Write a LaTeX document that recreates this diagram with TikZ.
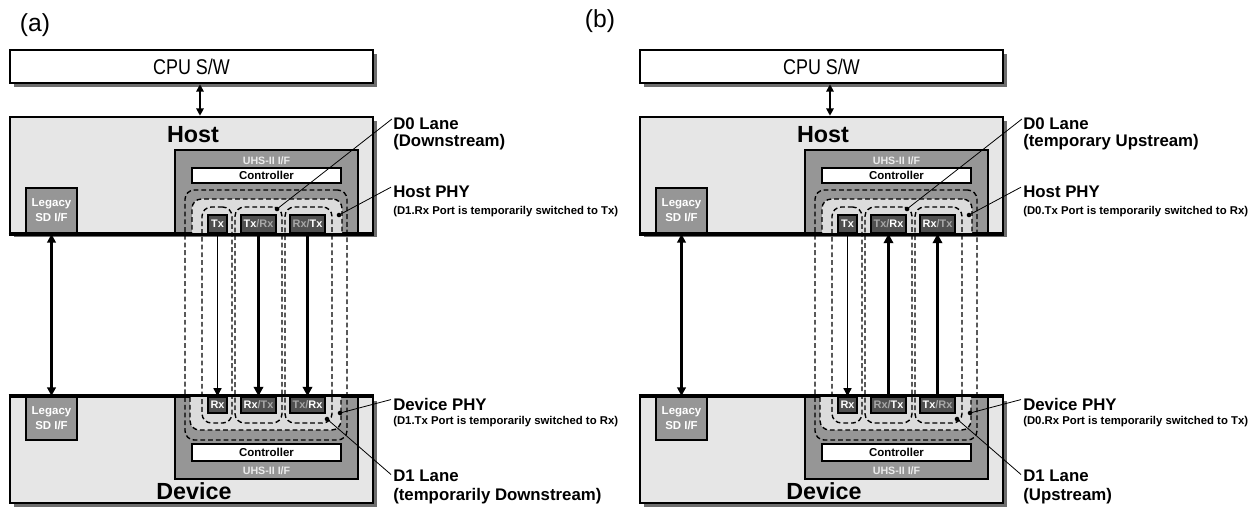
\documentclass[tikz,border=0pt]{standalone}
\usepackage{fontspec}
\setmainfont{Liberation Sans}
\newfontfamily\narrowfont[FakeStretch=0.84]{Liberation Sans}
\usetikzlibrary{arrows.meta,fit,shadows}
\definecolor{bggray}{HTML}{E6E6E6}
\definecolor{uhsgray}{HTML}{969696}
\definecolor{phygray}{HTML}{DCDCDC}
\definecolor{portgray}{HTML}{505050}
\definecolor{faintc}{HTML}{A8A8A8}
\definecolor{shgray}{HTML}{6E6E6E}
\newcommand\faint[1]{\textcolor{faintc}{#1}}
\tikzset{
  bigbox/.style={draw=black, line width=1.9pt, fill=bggray, inner sep=0pt,
    general shadow={fill=shgray, shadow xshift=3.2pt, shadow yshift=-3.2pt}},
  cpubox/.style={bigbox, fill=white},
  cputext/.style={inner sep=0pt, font=\narrowfont\fontsize{16}{18}\selectfont},
  uhsbox/.style={draw=black, line width=1.6pt, fill=uhsgray, inner sep=0pt},
  ctrlbox/.style={draw=black, line width=1.1pt, fill=white, inner sep=0pt},
  ctrltext/.style={inner sep=0pt, font=\bfseries\fontsize{8.6}{9}\selectfont},
  legbox/.style={draw=black, line width=1.6pt, fill=uhsgray, inner sep=0pt},
  legtext/.style={text=white, align=center, inner sep=0pt,
    font=\bfseries\fontsize{8.6}{10.8}\selectfont},
  uhstext/.style={text=white!92!black, inner sep=0pt, font=\bfseries\fontsize{8}{9}\selectfont},
  bigtitle/.style={inner sep=0pt, font=\bfseries\fontsize{17.5}{19}\selectfont},
  portbox/.style={draw=black, line width=1.2pt, fill=portgray, inner sep=0pt},
  porttext/.style={text=white, inner sep=0pt, font=\bfseries\fontsize{8.2}{9}\selectfont},
  phyreg/.style={draw=black, dash pattern=on 3.6pt off 2.2pt, line width=1.05pt,
    fill=phygray, rounded corners=7pt, inner sep=0pt},
  lanebox/.style={draw=black, dash pattern=on 3.6pt off 2.2pt, line width=1.05pt,
    rounded corners=7pt, inner sep=0pt},
  dotn/.style={circle, fill=black, inner sep=0pt, minimum size=3.4pt},
  leader/.style={line width=0.6pt},
  lbl/.style={anchor=base west, inner sep=0pt, font=\bfseries\fontsize{12.6}{14}\selectfont},
  sublbl/.style={anchor=base west, inner sep=0pt, font=\bfseries\fontsize{8.5}{10}\selectfont},
  cpuarrow/.style={line width=1.5pt, {Triangle[length=5.5pt,width=5.5pt]}-{Triangle[length=5.5pt,width=5.5pt]}},
  legarrow/.style={line width=1.9pt, {Triangle[length=6.5pt,width=6.5pt]}-{Triangle[length=6.5pt,width=6.5pt]}},
  thinarrow/.style={line width=1.1pt, -{Triangle[length=6pt,width=6pt]}},
  thickarrow/.style={line width=2.2pt, -{Triangle[length=7pt,width=7pt]}},
  panellbl/.style={inner sep=0pt, font=\fontsize{18.5}{20}\selectfont}
}
% #1 prefix, #2 host port2, #3 host port3, #4 dev port2, #5 dev port3,
% #6 D0 second line, #7 host PHY note, #8 device PHY note, #9 D1 second line
\newcommand\drawpanel[9]{%
  \node[cpubox, fit={(10,50)(373,83)}] (#1cpu) {};
  \node[cputext] (#1cput) at (#1cpu.center) {CPU S/W};
  \node[bigbox, fit={(10,117)(373,233)}] (#1host) {};
  \node[bigbox, fit={(10,397)(373,503)}] (#1dev) {};
  \coordinate (#1ax) at (200,0);
  \draw[cpuarrow] (#1cpu.south -| #1ax) -- (#1host.north -| #1ax);
  \node[bigtitle, anchor=base] (#1hosttitle) at (193,142) {Host};
  \node[bigtitle, anchor=base] (#1devtitle) at (194,499) {Device};
  % UHS-II interfaces
  \node[uhsbox, fit={(175,150)(358,233)}] (#1huhs) {};
  \node[uhstext] (#1huhst) at (266.5,161) {UHS-II I/F};
  \node[ctrlbox, fit={(192,168)(341,183)}] (#1hctrl) {};
  \node[ctrltext] (#1hctrlt) at (#1hctrl.center) {Controller};
  \node[uhsbox, fit={(175,397)(358,479)}] (#1duhs) {};
  \node[uhstext] (#1duhst) at (266.5,471) {UHS-II I/F};
  \node[ctrlbox, fit={(192,444)(341,461)}] (#1dctrl) {};
  \node[ctrltext] (#1dctrlt) at (#1dctrl.center) {Controller};
  % legacy
  \node[legbox, fit={(26,188)(77,233)}] (#1hleg) {};
  \node[legtext] (#1hlegt) at (51.5,210) {Legacy\\SD I/F};
  \node[legbox, fit={(26,397)(77,440)}] (#1dleg) {};
  \node[legtext] (#1dlegt) at (51.5,418) {Legacy\\SD I/F};
  \draw[legarrow] (#1hleg.south) -- (#1dleg.north);
  % PHY regions
  \begin{scope}
    \clip (10,117) rectangle (373,233);
    \node[phyreg, fit={(192,199)(342,250)}] (#1hphy) {};
  \end{scope}
  \begin{scope}
    \clip (10,397) rectangle (373,503);
    \node[phyreg, fit={(190,380)(341,430)}] (#1dphy) {};
  \end{scope}
  \node[lanebox, fit={(185,190)(347,440)}] (#1pair) {};
  \node[lanebox, fit={(202,207)(232,423)}] (#1l1) {};
  \node[lanebox, fit={(235,207)(282,423)}] (#1l2) {};
  \node[lanebox, fit={(285,207)(332,423)}] (#1l3) {};
  \draw[line width=1.9pt] (#1host.south west) -- (#1host.south east);
  \draw[line width=1.9pt] (#1dev.north west) -- (#1dev.north east);
  % ports
  \node[portbox, fit={(208,215)(227,233)}] (#1hp1) {};
  \node[portbox, fit={(241,215)(276,233)}] (#1hp2) {};
  \node[portbox, fit={(290,215)(325,233)}] (#1hp3) {};
  \node[portbox, fit={(208,397)(227,413)}] (#1dp1) {};
  \node[portbox, fit={(241,397)(276,413)}] (#1dp2) {};
  \node[portbox, fit={(290,397)(325,413)}] (#1dp3) {};
  \node[porttext] (#1hp1t) at (#1hp1.center) {Tx};
  \node[porttext] (#1hp2t) at (#1hp2.center) {#2};
  \node[porttext] (#1hp3t) at (#1hp3.center) {#3};
  \node[porttext] (#1dp1t) at (#1dp1.center) {Rx};
  \node[porttext] (#1dp2t) at (#1dp2.center) {#4};
  \node[porttext] (#1dp3t) at (#1dp3.center) {#5};
  % labels
  \node[lbl] (#1d0a) at (393,129) {D0 Lane};
  \node[lbl] (#1d0b) at (393,146) {#6};
  \node[lbl] (#1hpa) at (393,197) {Host PHY};
  \node[sublbl] (#1hpb) at (393,214) {#7};
  \node[lbl] (#1dpa) at (393,410) {Device PHY};
  \node[sublbl] (#1dpb) at (393,424) {#8};
  \node[lbl] (#1d1a) at (393,481) {D1 Lane};
  \node[lbl] (#1d1b) at (393,500) {#9};
  \node[dotn] (#1d0dot) at (277,209) {};
  \node[dotn] (#1hpdot) at (339,215) {};
  \node[dotn] (#1dpdot) at (340,413) {};
  \node[dotn] (#1d1dot) at (327,419) {};
  \draw[leader] ([xshift=-0.8pt,yshift=-1.5pt]#1d0a.north west) -- (#1d0dot.center);
  \draw[leader] ([xshift=-1.5pt,yshift=-1.5pt]#1hpa.north west) -- (#1hpdot.center);
  \draw[leader] ([xshift=-1.5pt,yshift=-1.5pt]#1dpa.north west) -- (#1dpdot.center);
  \draw[leader] ([xshift=-1.5pt,yshift=-4pt]#1d1a.north west) -- (#1d1dot.center);
}
\begin{document}
\begin{tikzpicture}[x=0.75pt, y=-0.75pt]
  \useasboundingbox (0,0) rectangle (1257,515);
  \node[panellbl] (lbla) at (35,25) {(a)};
  \node[panellbl] (lblb) at (600,21) {(b)};
  \drawpanel{a}{Tx\faint{/Rx}}{\faint{Rx/}Tx}{Rx\faint{/Tx}}{\faint{Tx/}Rx}%
    {(Downstream)}{(D1.Rx Port is temporarily switched to Tx)}%
    {(D1.Tx Port is temporarily switched to Rx)}{(temporarily Downstream)}
  \draw[thinarrow] (ahp1.south) -- (adp1.north);
  \draw[thickarrow] (ahp2.south) -- (adp2.north);
  \draw[thickarrow] (ahp3.south) -- (adp3.north);
  \begin{scope}[xshift=472.5pt]
    \drawpanel{b}{\faint{Tx/}Rx}{Rx\faint{/Tx}}{\faint{Rx/}Tx}{Tx\faint{/Rx}}%
      {(temporary Upstream)}{(D0.Tx Port is temporarily switched to Rx)}%
      {(D0.Rx Port is temporarily switched to Tx)}{(Upstream)}
    \draw[thinarrow] (bhp1.south) -- (bdp1.north);
    \draw[thickarrow] (bdp2.north) -- (bhp2.south);
    \draw[thickarrow] (bdp3.north) -- (bhp3.south);
  \end{scope}
\end{tikzpicture}
\end{document}
